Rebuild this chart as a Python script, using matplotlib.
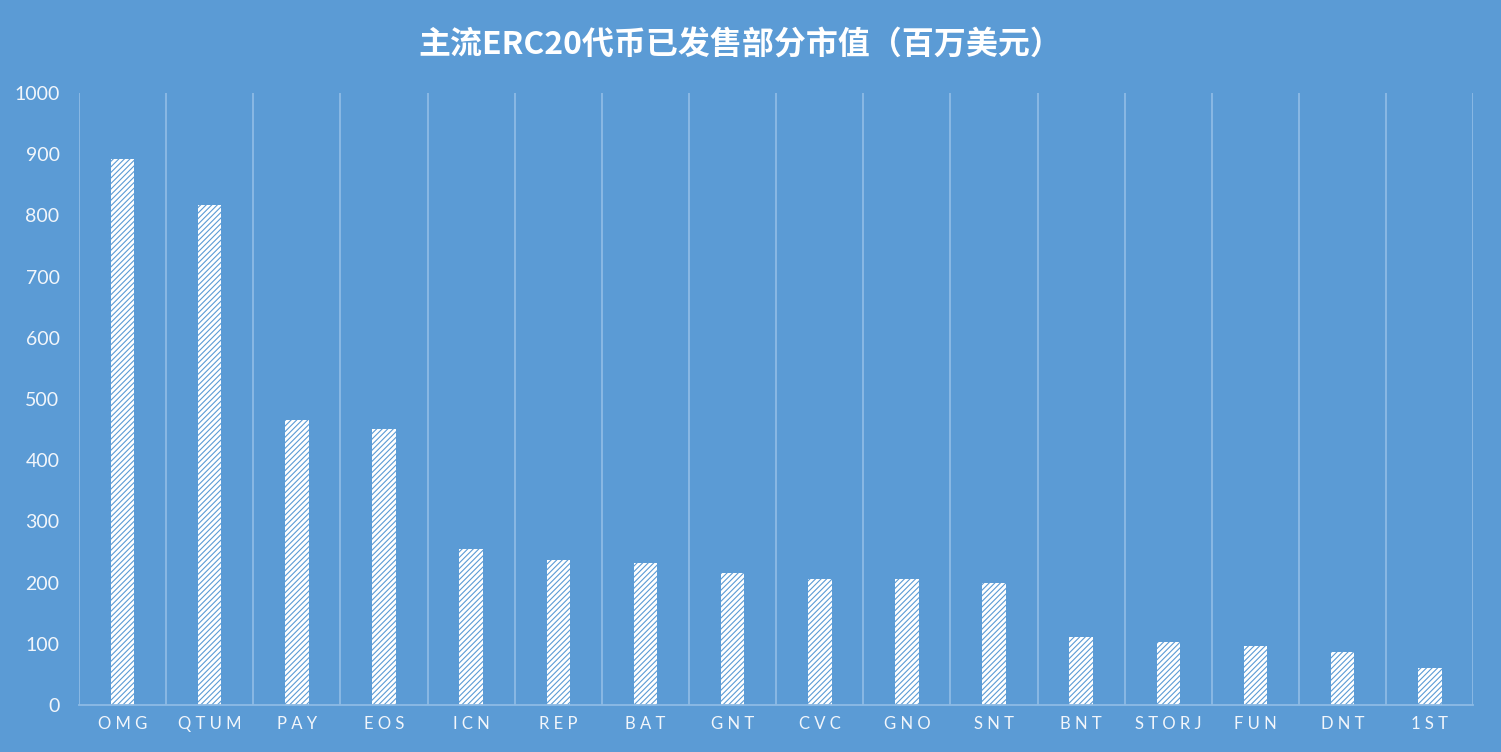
import numpy as np
import matplotlib.pyplot as plt

plt.rcParams['font.family'] = ['Lato', 'Noto Sans CJK SC', 'DejaVu Sans']
plt.rcParams['hatch.color'] = '#5B9BD5'
plt.rcParams['hatch.linewidth'] = 0.8

# 代币及已发售部分市值（百万美元）
tokens = ['OMG', 'QTUM', 'PAY', 'EOS', 'ICN', 'REP', 'BAT', 'GNT',
          'CVC', 'GNO', 'SNT', 'BNT', 'STORJ', 'FUN', 'DNT', '1ST']
values = [892, 817, 466, 451, 255, 237, 232, 216,
          206, 206, 199, 111, 103, 96, 87, 60]
y_ticks = [0, 100, 200, 300, 400, 500, 600, 700, 800, 900, 1000]

bg = '#5B9BD5'
grid_c = '#8DBBE5'
text_c = '#F2F6FB'

fig = plt.figure(figsize=(15.01, 7.52), dpi=100, facecolor=bg)
ax = fig.add_axes([0.0526, 0.0625, 0.929, 0.8138], facecolor=bg)

x = np.arange(len(tokens))
ax.bar(x, values, width=0.27, color='white', edgecolor=bg, linewidth=0,
       hatch='//////')

ax.set_xlim(-0.5, len(tokens) - 0.5)
ax.set_ylim(0, 1000)
ax.set_yticks(y_ticks)
ax.set_yticklabels([str(v) for v in y_ticks], color=text_c, fontsize=14)
ax.set_xticks(x)
ax.set_xticklabels([' '.join(t) for t in tokens], color=text_c, fontsize=12)

# 类别分隔竖线
for b in np.arange(-0.5, len(tokens), 1.0):
    ax.axvline(b, color=grid_c, linewidth=1.3, zorder=0)

for s in ['top', 'right', 'left']:
    ax.spines[s].set_visible(False)
ax.spines['bottom'].set_color(grid_c)
ax.spines['bottom'].set_linewidth(1.3)
ax.tick_params(axis='both', length=0, pad=8)
ax.tick_params(axis='y', pad=14)

fig.text(0.493, 0.94, '主流ERC20代币已发售部分市值（百万美元）', ha='center', va='center',
         color='white', fontsize=23, fontweight='bold',
         family=['Noto Sans CJK SC', 'DejaVu Sans'])

fig.savefig('out.png', dpi=100, facecolor=bg)
